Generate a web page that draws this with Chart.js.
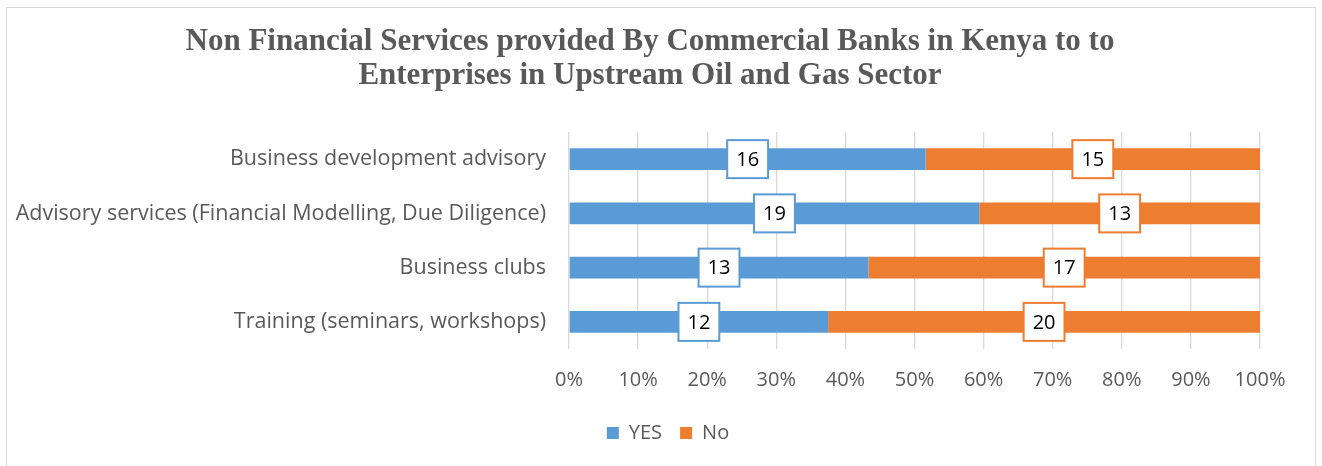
<!DOCTYPE html>
<html>
<head>
<meta charset="utf-8">
<script src="https://cdn.jsdelivr.net/npm/chart.js@4.4.1/dist/chart.umd.min.js"></script>
<style>
  html, body { margin: 0; padding: 0; background: #fff; overflow: hidden; }
  #wrap { position: relative; width: 1322px; height: 466px; }
  #frame { position: absolute; left: 6px; top: 7px; width: 1308px; height: 490px;
           border: 1.5px solid #d9d9d9; border-bottom: none; pointer-events: none; }
  canvas { position: absolute; left: 0; top: 0; }
</style>
</head>
<body>
<div id="wrap">
  <canvas id="chart" width="1322" height="466"></canvas>
  <div id="frame"></div>
</div>
<script>
// Services offered and how many respondents answered YES / No for each
const categories = [
  'Business development advisory',
  'Advisory services (Financial Modelling, Due Diligence)',
  'Business clubs',
  'Training (seminars, workshops)'
];
const yesCounts = [16, 19, 13, 12];
const noCounts = [15, 13, 17, 20];
const seriesNames = ['YES', 'No'];
const xTickLabels = ['0%', '10%', '20%', '30%', '40%', '50%', '60%', '70%', '80%', '90%', '100%'];
const titleLines = [
  'Non Financial Services provided By Commercial Banks in Kenya to to',
  'Enterprises in Upstream Oil and Gas Sector'
];

const BLUE = '#5B9BD5';
const ORANGE = '#ED7D31';
const TEXT = '#595959';

// 100% stacked: each bar is its count's share of the row total
function shares(counts) {
  return counts.map((c, i) => c / (yesCounts[i] + noCounts[i]) * 100);
}

// Count labels in white boxes outlined with the series colour
const boxLabels = {
  id: 'boxLabels',
  afterDatasetsDraw(chart) {
    const ctx = chart.ctx;
    chart.data.datasets.forEach((ds, di) => {
      const meta = chart.getDatasetMeta(di);
      meta.data.forEach((bar, i) => {
        const text = String(ds.counts[i]);
        const cx = (bar.x + bar.base) / 2;
        const cy = bar.y;
        ctx.save();
        ctx.font = '20px "Open Sans"';
        const w = ctx.measureText(text).width + 18;
        const h = 38;
        ctx.fillStyle = '#ffffff';
        ctx.fillRect(cx - w / 2, cy - h / 2, w, h);
        ctx.lineWidth = 2;
        ctx.strokeStyle = ds.backgroundColor;
        ctx.strokeRect(cx - w / 2, cy - h / 2, w, h);
        ctx.fillStyle = '#000000';
        ctx.textAlign = 'center';
        ctx.textBaseline = 'middle';
        ctx.fillText(text, cx, cy + 1);
        ctx.restore();
      });
    });
  }
};

// Centre the title and the legend row over the whole frame
const blockShift = {
  id: 'blockShift',
  afterLayout(chart) {
    if (chart.titleBlock) {
      chart.titleBlock.left += 15;
      chart.titleBlock.right += 15;
    }
    if (chart.legend) {
      chart.legend.left += 33;
      chart.legend.right += 33;
    }
  }
};

new Chart(document.getElementById('chart'), {
  type: 'bar',
  data: {
    labels: categories,
    datasets: [
      { label: seriesNames[0], data: shares(yesCounts), counts: yesCounts, backgroundColor: BLUE },
      { label: seriesNames[1], data: shares(noCounts), counts: noCounts, backgroundColor: ORANGE }
    ]
  },
  options: {
    indexAxis: 'y',
    responsive: false,
    animation: false,
    devicePixelRatio: 1,
    layout: { padding: { left: 10, right: 62, top: 0, bottom: 13 } },
    datasets: { bar: { barPercentage: 0.4, categoryPercentage: 1 } },
    scales: {
      x: {
        stacked: true,
        min: 0,
        max: 100,
        ticks: {
          stepSize: 10,
          padding: 19,
          color: TEXT,
          font: { family: 'Open Sans', size: 20 },
          callback: (v, i) => xTickLabels[i]
        },
        grid: { color: '#d9d9d9', lineWidth: 1.3, drawTicks: false },
        border: { display: false },
        afterFit: s => { s.height = 56; }
      },
      y: {
        stacked: true,
        ticks: { padding: 23, color: TEXT, font: { family: 'Open Sans', size: 21.5 } },
        grid: { display: false, drawTicks: false },
        border: { display: false },
        afterFit: s => { s.width = 559; }
      }
    },
    plugins: {
      title: {
        display: true,
        text: titleLines,
        color: TEXT,
        font: { family: 'Liberation Serif', weight: 'bold', size: 31, lineHeight: 1.097 },
        padding: { top: 25, bottom: 39 }
      },
      legend: {
        position: 'bottom',
        labels: {
          boxWidth: 12,
          boxHeight: 12,
          padding: 18,
          color: TEXT,
          font: { family: 'Open Sans', size: 20 }
        }
      },
      tooltip: { enabled: false }
    }
  },
  plugins: [boxLabels, blockShift]
});
</script>
</body>
</html>
